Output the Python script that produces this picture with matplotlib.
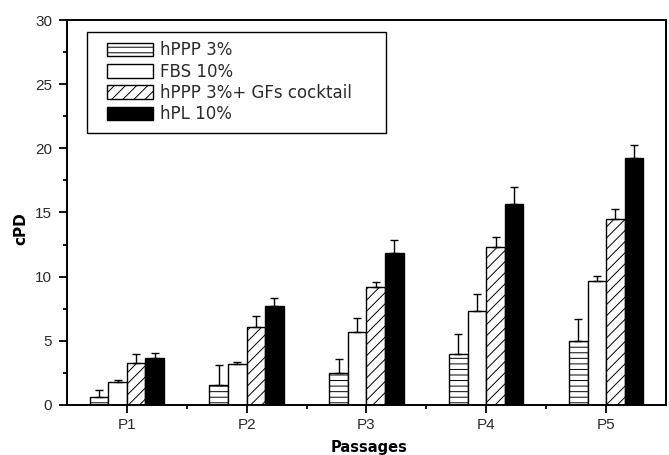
import matplotlib
matplotlib.use("Agg")
import matplotlib.pyplot as plt
import numpy as np
from matplotlib.ticker import MultipleLocator, FixedLocator
from matplotlib.patches import Rectangle

categories = ["P1", "P2", "P3", "P4", "P5"]
series_names = ["hPPP 3%", "FBS 10%", "hPPP 3%+ GFs cocktail", "hPL 10%"]
hppp = [0.65, 1.53, 2.47, 3.95, 4.96]
hppp_err = [0.5, 1.6, 1.1, 1.58, 1.74]
fbs = [1.8, 3.22, 5.69, 7.35, 9.69]
fbs_err = [0.15, 0.15, 1.1, 1.28, 0.34]
cocktail = [3.3, 6.05, 9.17, 12.34, 14.52]
cocktail_err = [0.65, 0.9, 0.4, 0.78, 0.73]
hpl = [3.63, 7.72, 11.85, 15.69, 19.28]
hpl_err = [0.4, 0.65, 1.0, 1.33, 1.0]

values = [hppp, fbs, cocktail, hpl]
errors = [hppp_err, fbs_err, cocktail_err, hpl_err]
hatches = ["---", "", "///", ""]
faces = ["white", "white", "white", "black"]

plt.rcParams["hatch.linewidth"] = 0.7
plt.rcParams["font.family"] = ["Liberation Sans", "DejaVu Sans"]

fig = plt.figure(figsize=(6.69, 4.55), dpi=100)
ax = fig.add_axes([0.100, 0.110, 0.8955, 0.846])

x = np.arange(1, len(categories) + 1)
w = 0.155
offsets = (np.arange(4) - 1.5) * w
for i in range(4):
    ax.bar(x + offsets[i], values[i], width=w, color=faces[i], edgecolor="black",
           hatch=hatches[i], linewidth=1.0, label=series_names[i],
           yerr=[np.zeros(len(x)), errors[i]], capsize=3,
           error_kw=dict(elinewidth=1.0, capthick=1.0, ecolor="black"))

ax.set_xlim(0.5, 5.5)
ax.set_ylim(0, 30)
ax.yaxis.set_major_locator(MultipleLocator(5))
ax.yaxis.set_minor_locator(MultipleLocator(2.5))
ax.set_xticks(x)
ax.set_xticklabels(categories)
ax.xaxis.set_minor_locator(FixedLocator([1.5, 2.5, 3.5, 4.5]))
ax.tick_params(axis="both", which="major", direction="out", length=5.5, width=1.3,
               labelsize=11, labelcolor="#2a2a2a")
ax.tick_params(axis="both", which="minor", direction="out", length=2.8, width=1.3)
ax.tick_params(axis="x", pad=4)
ax.tick_params(axis="y", pad=5)
for s in ax.spines.values():
    s.set_linewidth(1.4)

ax.set_xlabel("Passages", fontsize=10.5, fontweight="bold", family="DejaVu Sans")
ax.xaxis.set_label_coords(0.505, -0.092)
ax.set_ylabel("cPD", fontsize=11, fontweight="bold", family="DejaVu Sans")
ax.yaxis.set_label_coords(-0.064, 0.457)

# legend frame (square box)
ax.add_patch(Rectangle((0.0334, 0.7065), 0.4992, 0.2623, transform=ax.transAxes,
                       facecolor="white", edgecolor="black", linewidth=1.0, zorder=4))
leg = ax.legend(loc="upper left", bbox_to_anchor=(0.0668, 0.945), frameon=False,
                prop={"family": "DejaVu Sans", "size": 12}, borderaxespad=0,
                borderpad=0, handlelength=2.75, handleheight=0.9, handletextpad=0.45,
                labelspacing=0.2, labelcolor="#2a2a2a")
leg.set_zorder(5)

fig.savefig("out.png", dpi=100)
